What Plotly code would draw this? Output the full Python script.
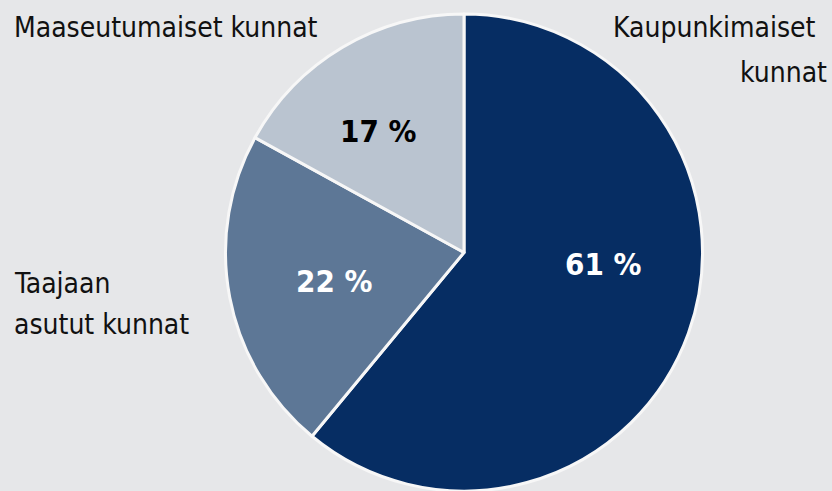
import plotly.graph_objects as go

categories = ["Kaupunkimaiset kunnat", "Taajaan asutut kunnat", "Maaseutumaiset kunnat"]
shares = [61, 22, 17]
slice_labels = ["61 %", "22 %", "17 %"]
colors = ["#062d63", "#5d7796", "#bac4d0"]
text_colors = ["white", "white", "black"]

FONT = "DejaVu Sans Condensed"
W, H = 832, 491
TOP = 14

fig = go.Figure(go.Pie(
    labels=categories,
    values=shares,
    textinfo="none",
    sort=False,
    direction="clockwise",
    rotation=0,
    marker=dict(colors=colors, line=dict(color="#f7f7f7", width=3)),
    showlegend=False,
    hoverinfo="label+percent",
    domain=dict(x=[(464 - 240) / W, (464 + 240) / W], y=[0, 1]),
))


def px(x, y):
    return x / W, (H - y) / (H - TOP)


# slice value labels
label_pos = [(603, 264), (334, 281), (378, 131)]
for txt, (x, y), c in zip(slice_labels, label_pos, text_colors):
    ax, ay = px(x, y)
    fig.add_annotation(
        text="<b>" + txt + "</b>", x=ax, y=ay, xref="paper", yref="paper",
        xanchor="center", yanchor="middle", showarrow=False,
        font=dict(family=FONT, size=31, color=c),
    )

# category labels
anns = [
    ("Maaseutumaiset kunnat", 12, 28, "left"),
    ("Kaupunkimaiset", 818, 28, "right"),
    ("kunnat", 829, 72, "right"),
    ("Taajaan", 12, 283, "left"),
    ("asutut kunnat", 12, 325, "left"),
]
for t, x, y, anc in anns:
    ax, ay = px(x, y)
    fig.add_annotation(
        text=t, x=ax, y=ay, xref="paper", yref="paper", xanchor=anc,
        yanchor="middle", showarrow=False,
        font=dict(family=FONT, size=28, color="#111111"),
    )

fig.update_layout(
    width=W, height=H,
    margin=dict(l=0, r=0, t=TOP, b=0),
    paper_bgcolor="#e6e7e9",
    plot_bgcolor="#e6e7e9",
)
fig.write_html("out.html", config={"displayModeBar": False},
               post_script="document.body.style.margin='0';")
